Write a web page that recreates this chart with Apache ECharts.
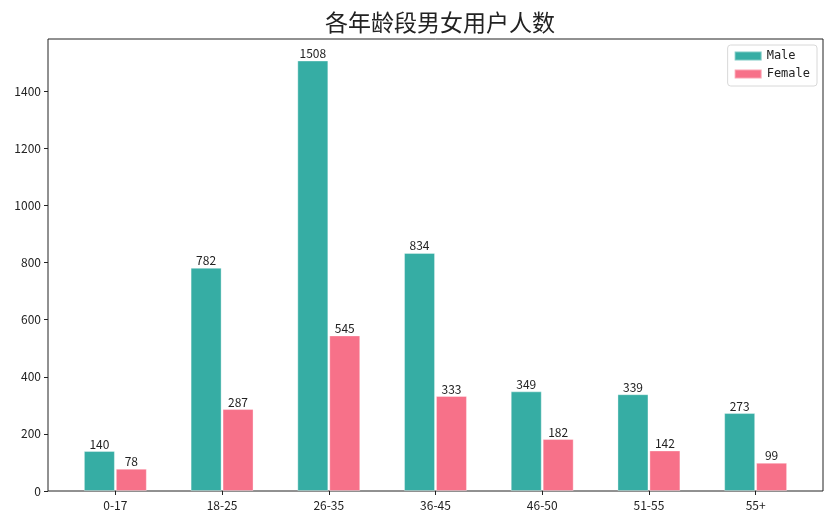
<!DOCTYPE html>
<html>
<head>
<meta charset="utf-8">
<script src="https://cdn.jsdelivr.net/npm/echarts@6/dist/echarts.min.js"></script>
<style>
  html, body { margin: 0; padding: 0; background: #fff; }
  #chart { width: 835px; height: 523px; }
</style>
</head>
<body>
<div id="chart"></div>
<script>
const ageGroups = ['0-17', '18-25', '26-35', '36-45', '46-50', '51-55', '55+'];
const maleCounts = [140, 782, 1508, 834, 349, 339, 273];
const femaleCounts = [78, 287, 545, 333, 182, 142, 99];
const yTicks = [0, 200, 400, 600, 800, 1000, 1200, 1400];

const font = '"Noto Sans CJK SC", "DejaVu Sans", sans-serif';
const yMax = 1583.4;

const chart = echarts.init(document.getElementById('chart'));

const labelStyle = {
  show: true,
  position: 'top',
  distance: 1,
  color: '#222',
  fontSize: 12,
  fontFamily: font
};

chart.setOption({
  animation: false,
  title: {
    text: '各年龄段男女用户人数',
    left: 435,
    textAlign: 'center',
    top: 6,
    textStyle: { fontSize: 23, fontWeight: 'normal', color: '#222', fontFamily: font }
  },
  legend: {
    orient: 'vertical',
    right: 18,
    top: 45,
    icon: 'rect',
    itemWidth: 27,
    itemHeight: 9,
    itemGap: 6,
    padding: [5, 7, 6, 6],
    borderColor: '#d8d8d8',
    borderWidth: 1,
    borderRadius: 3,
    textStyle: { fontSize: 12, color: '#222', fontFamily: '"DejaVu Sans Mono", monospace' },
    data: ['Male', 'Female']
  },
  grid: [
    // frame and y axis
    { left: 48, right: 12, top: 39, bottom: 32, show: true, borderColor: '#222', borderWidth: 1, backgroundColor: 'transparent' },
    // data area, inset by matplotlib-like margins
    { left: 62, right: 26, top: 39, bottom: 32 }
  ],
  xAxis: [
    { type: 'value', gridIndex: 0, show: false, min: 0, max: 1 },
    {
      type: 'category',
      gridIndex: 1,
      data: ageGroups,
      axisLine: { show: false },
      axisTick: { show: true, alignWithLabel: true, length: 4, lineStyle: { color: '#222' } },
      axisLabel: { color: '#222', fontSize: 12, margin: 8, fontFamily: font }
    }
  ],
  yAxis: [
    {
      type: 'value',
      gridIndex: 0,
      min: 0,
      max: yMax,
      interval: 200,
      axisLine: { show: false },
      axisTick: { show: true, length: 4, customValues: yTicks, lineStyle: { color: '#222' } },
      axisLabel: {
        color: '#222', fontSize: 12, margin: 7, fontFamily: font,
        customValues: yTicks,
        formatter: v => String(v)
      },
      splitLine: { show: false }
    },
    { type: 'value', gridIndex: 1, min: 0, max: yMax, show: false, splitLine: { show: false } }
  ],
  series: [
    {
      name: 'Male',
      type: 'bar',
      xAxisIndex: 1,
      yAxisIndex: 1,
      data: maleCounts,
      barWidth: 31,
      barGap: '3%',
      itemStyle: { color: '#36ada4', borderColor: 'rgba(255,255,255,0.35)', borderWidth: 1 },
      label: labelStyle
    },
    {
      name: 'Female',
      type: 'bar',
      xAxisIndex: 1,
      yAxisIndex: 1,
      data: femaleCounts,
      barWidth: 31,
      itemStyle: { color: '#f77189', borderColor: 'rgba(255,255,255,0.35)', borderWidth: 1 },
      label: labelStyle
    }
  ]
});
</script>
</body>
</html>
